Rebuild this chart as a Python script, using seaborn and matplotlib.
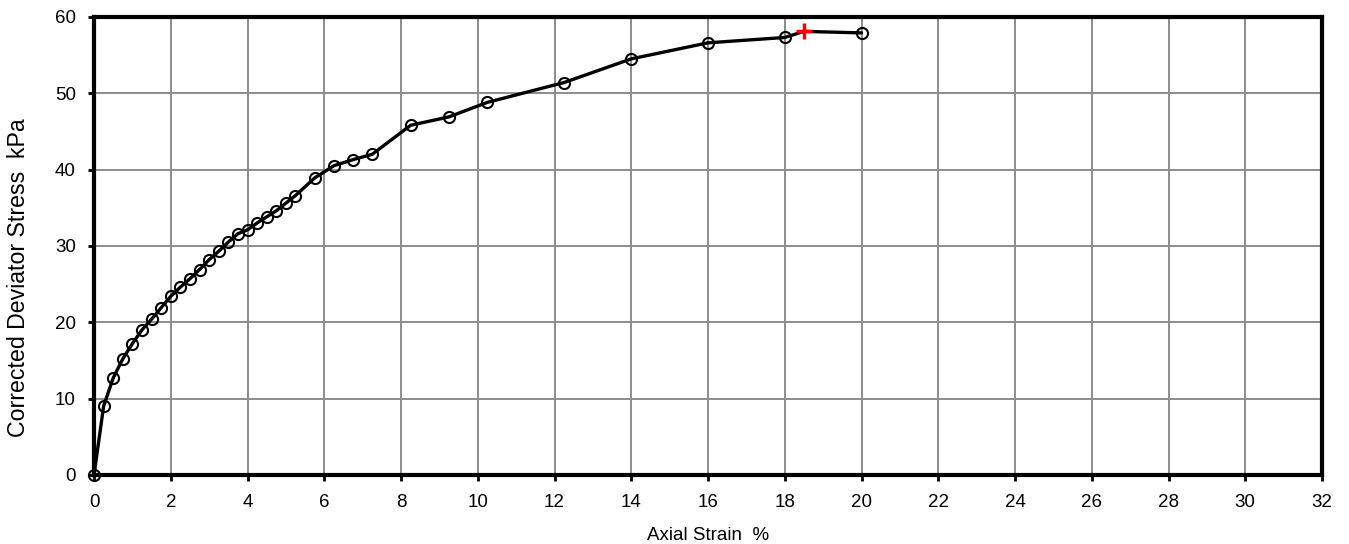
import numpy as np
import pandas as pd
import matplotlib
matplotlib.use("Agg")
import matplotlib.pyplot as plt
import seaborn as sns

# axial strain (%) and corrected deviator stress (kPa)
strain = [0, 0.25, 0.5, 0.75, 1.0, 1.25, 1.5, 1.75, 2.0, 2.25, 2.5, 2.75, 3.0,
          3.25, 3.5, 3.75, 4.0, 4.25, 4.5, 4.75, 5.0, 5.25, 5.75, 6.25, 6.75,
          7.25, 8.25, 9.25, 10.25, 12.25, 14.0, 16.0, 18.0, 20.0]
stress = [0, 9.0, 12.7, 15.2, 17.2, 19.0, 20.4, 21.9, 23.4, 24.6, 25.7, 26.9,
          28.2, 29.3, 30.5, 31.6, 32.1, 33.0, 33.8, 34.6, 35.6, 36.6, 38.9,
          40.5, 41.3, 42.0, 45.8, 46.9, 48.8, 51.4, 54.5, 56.6, 57.3, 57.9]
peak_strain = [18.5]
peak_stress = [58.1]

df = pd.DataFrame({"strain": strain, "stress": stress})
peak = pd.DataFrame({"strain": peak_strain, "stress": peak_stress})
curve = pd.concat([df, peak]).sort_values("strain")

sns.set_style("white", {"text.color": "black", "axes.labelcolor": "black",
                        "xtick.color": "black", "ytick.color": "black"})
plt.rcParams['font.family'] = ['Liberation Sans', 'DejaVu Sans']

fig = plt.figure(figsize=(13.49, 5.44), dpi=100)
ax = fig.add_axes([0.0697, 0.127, 0.9103, 0.842])

sns.lineplot(data=curve, x="strain", y="stress", ax=ax, color="black",
             linewidth=2.4, sort=False, zorder=3)
ax.plot(df["strain"], df["stress"], linestyle="none", marker="o",
        markersize=8, markerfacecolor="none", markeredgecolor="black",
        markeredgewidth=1.5, zorder=4, clip_on=False)
ax.plot(peak["strain"], peak["stress"], marker="+", color="red",
        markersize=11, markeredgewidth=2.5, linestyle="none", zorder=5)

ax.set_xlim(0, 32)
ax.set_ylim(0, 60)
ax.set_xticks(np.arange(0, 33, 2))
ax.set_yticks(np.arange(0, 61, 10))
ax.grid(True, color="#8c8c8c", linewidth=1.4)
ax.set_axisbelow(True)
for s in ax.spines.values():
    s.set_color("black")
    s.set_linewidth(3)
ax.tick_params(axis="both", direction="out", length=4, width=2,
               color="black", labelcolor="black", labelsize=13.5,
               bottom=True, left=True)
ax.tick_params(axis="x", pad=10)
ax.tick_params(axis="y", pad=9)

ax.set_xlabel("Axial Strain  %", fontsize=13.5, labelpad=11, color="black")
ax.set_ylabel("Corrected Deviator Stress  kPa", fontsize=16.7, color="black")
ax.yaxis.set_label_coords(-0.052, 0.43)

fig.savefig("out.png", dpi=100)
